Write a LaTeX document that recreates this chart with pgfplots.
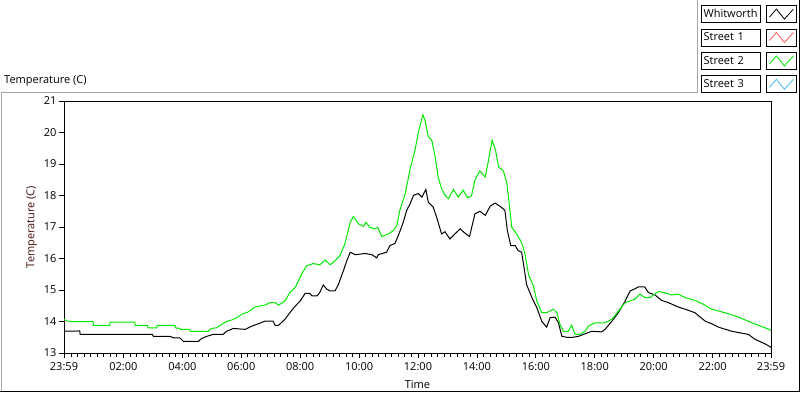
\documentclass[border=0pt]{standalone}
\usepackage{fontspec}
\setmainfont{Open Sans}
\usepackage{pgfplots}
\pgfplotsset{compat=1.18}
\definecolor{lvgreen}{RGB}{0,235,0}
\definecolor{lvred}{RGB}{255,90,90}
\definecolor{lvblue}{RGB}{70,185,245}
\definecolor{lvlabel}{RGB}{70,15,15}

\pgfplotstableread{
t T
0 13.69
32 13.70
33 13.59
180 13.59
182 13.53
216 13.53
223 13.48
236 13.48
243 13.37
274 13.37
280 13.46
291 13.53
304 13.59
324 13.59
331 13.69
345 13.78
369 13.75
382 13.85
396 13.93
409 14.01
426 14.01
430 13.88
437 13.88
450 14.07
460 14.28
471 14.49
481 14.65
491 14.89
501 14.89
505 14.81
515 14.81
521 14.92
528 15.16
535 15.03
542 14.97
552 14.97
559 15.18
569 15.61
576 15.93
583 16.20
593 16.12
613 16.16
627 16.12
637 16.02
640 16.12
657 16.20
664 16.41
674 16.48
681 16.73
691 17.15
698 17.53
705 17.74
712 18.01
722 18.06
729 17.95
737 18.19
742 17.79
752 17.63
759 17.31
769 16.78
776 16.85
786 16.62
796 16.78
807 16.94
817 16.80
826 16.70
837 17.42
847 17.50
858 17.37
868 17.66
878 17.76
888 17.66
898 17.53
903 16.89
910 16.41
919 16.41
925 16.25
932 16.20
936 15.82
942 15.18
953 14.76
963 14.44
973 14.01
983 13.82
990 14.12
1000 14.14
1007 13.96
1014 13.53
1024 13.50
1037 13.50
1048 13.53
1058 13.59
1075 13.69
1095 13.67
1102 13.75
1116 14.01
1129 14.28
1143 14.65
1153 14.97
1163 15.04
1170 15.10
1183 15.10
1190 14.92
1204 14.84
1217 14.67
1231 14.60
1251 14.46
1265 14.39
1285 14.28
1306 14.01
1319 13.93
1333 13.82
1360 13.69
1394 13.59
1408 13.43
1428 13.29
1440 13.18
}\whitworth

\pgfplotstableread{
t T
0 14.07
5 14.02
15 14.00
59 14.00
60 13.88
93 13.88
94 13.98
144 13.98
145 13.88
170 13.88
171 13.80
189 13.80
190 13.88
226 13.88
227 13.80
236 13.78
237 13.75
256 13.75
257 13.69
294 13.69
300 13.78
311 13.80
318 13.88
331 14.00
342 14.05
352 14.12
362 14.23
376 14.31
389 14.46
409 14.52
420 14.60
430 14.60
437 14.52
450 14.65
460 14.92
471 15.08
484 15.50
494 15.77
508 15.84
521 15.80
532 15.95
542 15.80
552 15.93
562 16.09
572 16.46
583 17.15
589 17.33
600 17.10
610 17.02
615 17.15
623 16.99
633 16.94
639 16.99
647 16.70
661 16.78
671 16.89
678 17.05
684 17.53
695 18.06
705 18.85
715 19.45
722 20.03
731 20.56
735 20.40
742 19.87
749 19.76
756 19.23
762 18.59
769 18.22
776 18.01
783 17.90
793 18.19
803 17.95
813 18.17
822 17.93
830 17.99
837 18.49
847 18.78
858 18.59
864 19.07
872 19.76
879 19.44
885 18.91
895 18.78
902 18.38
906 17.85
912 16.99
922 16.78
932 16.51
939 16.14
946 15.50
956 15.13
963 14.65
973 14.28
983 14.28
997 14.39
1004 14.28
1010 13.91
1017 13.69
1027 13.69
1034 13.88
1041 13.59
1051 13.59
1061 13.69
1068 13.85
1082 13.96
1102 13.96
1116 14.07
1129 14.33
1143 14.60
1163 14.71
1173 14.87
1183 14.76
1194 14.76
1200 14.84
1211 14.95
1224 14.91
1238 14.84
1251 14.87
1265 14.76
1285 14.67
1302 14.55
1319 14.39
1346 14.28
1374 14.14
1401 13.96
1428 13.80
1440 13.72
}\streettwo

\begin{document}
\begin{tikzpicture}[font=\fontsize{11pt}{13pt}\selectfont]
\useasboundingbox (0,0) rectangle (800pt,392pt);
\fill[white] (0,0) rectangle (800pt,392pt);
% panel frame
\draw[gray!70, line width=1pt] (1pt,1pt) -- (1pt,300pt) -- (697pt,300pt) -- (697pt,392pt);
\draw[black, line width=1pt] (0pt,1pt) -- (799pt,1pt) -- (799pt,392pt);
\node[anchor=west, inner sep=0pt] at (4pt,311pt) {Temperature (C)};
\begin{axis}[
  at={(64pt,39pt)}, anchor=south west,
  scale only axis, width=707pt, height=252pt,
  xmin=0, xmax=1440, ymin=13, ymax=21,
  axis line style={black, line width=0.8pt},
  tick align=outside,
  xtick pos=bottom, ytick pos=left,
  major tick length=5pt,
  every tick/.style={black, line width=0.8pt},
  xtick={0,121,241,361,481,601,721,841,961,1081,1201,1321,1440},
  xticklabels={23:59,02:00,04:00,06:00,08:00,10:00,12:00,14:00,16:00,18:00,20:00,22:00,23:59},
  extra x ticks={14.3,27.7,41,54.3,67.7,81,94.3,107.7,
    134.3,147.7,161,174.3,187.7,201,214.3,227.7,
    254.3,267.7,281,294.3,307.7,321,334.3,347.7,
    374.3,387.7,401,414.3,427.7,441,454.3,467.7,
    494.3,507.7,521,534.3,547.7,561,574.3,587.7,
    614.3,627.7,641,654.3,667.7,681,694.3,707.7,
    734.3,747.7,761,774.3,787.7,801,814.3,827.7,
    854.3,867.7,881,894.3,907.7,921,934.3,947.7,
    974.3,987.7,1001,1014.3,1027.7,1041,1054.3,1067.7,
    1094.3,1107.7,1121,1134.3,1147.7,1161,1174.3,1187.7,
    1214.3,1227.7,1241,1254.3,1267.7,1281,1294.3,1307.7,
    1334.3,1347.7,1361,1374.3,1387.7,1401,1414.3,1427.7},
  extra x tick labels={},
  extra x tick style={major tick length=3.5pt, tick style={black, line width=0.8pt}, grid=none},
  ytick={13,14,...,21},
  /pgf/number format/assume math mode=true,
  xticklabel style={yshift=-1pt},
  yticklabel style={xshift=1pt},
  xlabel={Time},
  xlabel style={at={(axis description cs:0.5,-0.127)}, anchor=center},
  ylabel={Temperature (C)},
  ylabel style={at={(axis description cs:-0.0455,0.5)}, anchor=center, rotate=0, text=lvlabel},
  legend plot pos=right,
  legend cell align=left,
  legend style={at={(axis description cs:1.0368,1.381)}, anchor=north east,
    draw=none, fill=none, inner sep=0pt, row sep=5.6pt, column sep=5pt,
    nodes={draw=black, line width=0.8pt, text width=55pt, align=left, inner xsep=2pt, inner ysep=0pt, minimum height=17pt}},
  legend image code/.code={
    \draw[black, line width=0.8pt, fill=white, solid] (0pt,-8.5pt) rectangle (30pt,8.5pt);
    \draw[#1, line width=0.8pt] (3pt,-3pt) -- (10pt,5pt) -- (18pt,-5pt) -- (27pt,5pt);
  },
]
\addplot[black, line width=1pt] table[x=t,y=T] {\whitworth};
\addlegendentry{Whitworth}
\addlegendimage{lvred, line width=0.8pt}
\addlegendentry{Street 1}
\addplot[lvgreen, line width=1pt] table[x=t,y=T] {\streettwo};
\addlegendentry{Street 2}
\addlegendimage{lvblue, line width=0.8pt}
\addlegendentry{Street 3}
\end{axis}
\end{tikzpicture}
\end{document}
